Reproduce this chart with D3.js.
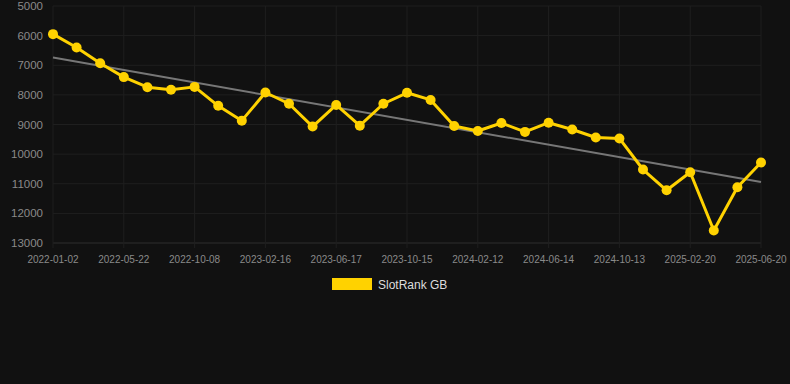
<!DOCTYPE html>
<html><head><meta charset="utf-8">
<script src="https://cdn.jsdelivr.net/npm/d3@7"></script>
<style>html,body{margin:0;padding:0;background:#111111;}svg{display:block;}</style>
</head><body>
<svg id="c" width="790" height="384"></svg>
<script>
const categories = ["2022-01-02","2022-02-18","2022-04-05","2022-05-22","2022-07-07","2022-08-23","2022-10-08","2022-11-17","2022-12-28","2023-02-16","2023-03-28","2023-05-08","2023-06-17","2023-07-27","2023-09-05","2023-10-15","2023-11-24","2024-01-03","2024-02-12","2024-03-23","2024-05-04","2024-06-14","2024-07-24","2024-09-03","2024-10-13","2024-11-25","2025-01-07","2025-02-20","2025-04-01","2025-05-11","2025-06-20"];
const values = [5950,6400,6930,7400,7740,7830,7730,8370,8870,7920,8300,9070,8340,9040,8300,7930,8170,9050,9220,8950,9250,8940,9170,9440,9470,10520,11220,10610,12580,11120,10280];
const tickLabels = ["2022-01-02","2022-05-22","2022-10-08","2023-02-16","2023-06-17","2023-10-15","2024-02-12","2024-06-14","2024-10-13","2025-02-20","2025-06-20"];
const yTicks = [5000,6000,7000,8000,9000,10000,11000,12000,13000];
const seriesName = "SlotRank GB";

const svg = d3.select("#c");
const L = 53, R = 761, T = 6, B = 243;
const font = "Liberation Sans, Arial, sans-serif";
const x = d3.scalePoint().domain(categories).range([L, R]);
const y = d3.scaleLinear().domain([5000,13000]).range([T, B]);

// grid
const g = svg.append("g");
g.selectAll("line.h").data(yTicks).join("line")
  .attr("x1", L).attr("x2", R).attr("y1", d=>y(d)).attr("y2", d=>y(d))
  .attr("stroke", d=>d===13000?"#2e2e2e":"#1f1f1f").attr("stroke-width",1);
g.selectAll("line.v").data(tickLabels).join("line")
  .attr("x1", d=>x(d)).attr("x2", d=>x(d)).attr("y1", T).attr("y2", B+5)
  .attr("stroke", "#1f1f1f").attr("stroke-width",1);

// y labels
svg.append("g").selectAll("text").data(yTicks).join("text")
  .attr("x", 43).attr("y", d=>y(d)+4).attr("text-anchor","end")
  .attr("font-family",font).attr("font-size","11.5px")
  .attr("fill","#8a8a8a").text(d=>d);

// x labels
svg.append("g").selectAll("text").data(tickLabels).join("text")
  .attr("x", d=>x(d)).attr("y", 263).attr("text-anchor","middle")
  .attr("font-family",font).attr("font-size","10px")
  .attr("fill","#8a8a8a").text(d=>d);

// trend line (least squares)
const n = values.length, xs = d3.range(n);
const mx = d3.mean(xs), my = d3.mean(values);
const slope = d3.sum(xs, i => (i-mx)*(values[i]-my)) / d3.sum(xs, i => (i-mx)*(i-mx));
const icpt = my - slope*mx;
svg.append("line").attr("x1", x(categories[0])).attr("y1", y(icpt))
  .attr("x2", x(categories[n-1])).attr("y2", y(icpt+slope*(n-1)))
  .attr("stroke","#777").attr("stroke-width",2);

// series
const line = d3.line().x((d,i)=>x(categories[i])).y(d=>y(d));
svg.append("path").datum(values).attr("d", line).attr("fill","none")
  .attr("stroke","#FFD200").attr("stroke-width",3).attr("stroke-linejoin","round");
svg.append("g").selectAll("circle").data(values).join("circle")
  .attr("cx",(d,i)=>x(categories[i])).attr("cy",d=>y(d)).attr("r",5).attr("fill","#FFD200");

// legend
svg.append("rect").attr("x",332).attr("y",278).attr("width",40).attr("height",12).attr("fill","#FFD200");
svg.append("text").attr("x",378).attr("y",289).attr("font-family",font)
  .attr("font-size","12px").attr("fill","#dddddd").text(seriesName);
</script>
</body></html>
